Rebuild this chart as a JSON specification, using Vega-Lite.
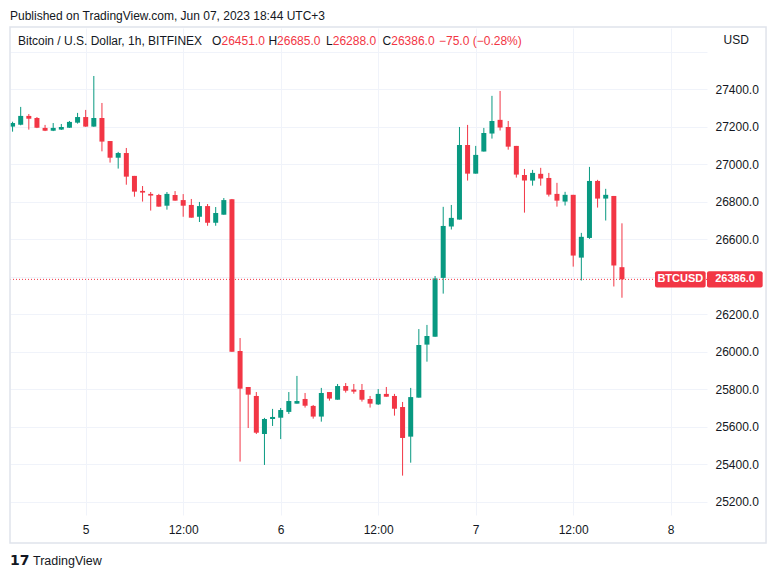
{
  "$schema": "https://vega.github.io/schema/vega-lite/v6.json",
  "width": 697,
  "height": 487,
  "autosize": {"type": "none"},
  "padding": {"left": 10, "top": 28, "right": 70, "bottom": 64},
  "background": "white",
  "config": {"view": {"stroke": null}, "font": "Liberation Sans"},
  "title": {"text": "Published on TradingView.com, Jun 07, 2023 18:44 UTC+3", "anchor": "start", "frame": "group", "fontSize": 12, "fontWeight": "normal", "color": "#131722", "font": "Liberation Sans", "offset": 3},
  "datasets": {
    "candles": [
      {"t": "2023-06-04T15:00:00Z", "o": 27201, "h": 27227, "l": 27174, "c": 27220},
      {"t": "2023-06-04T16:00:00Z", "o": 27211, "h": 27306, "l": 27208, "c": 27258},
      {"t": "2023-06-04T17:00:00Z", "o": 27258, "h": 27268, "l": 27185, "c": 27243},
      {"t": "2023-06-04T18:00:00Z", "o": 27247, "h": 27252, "l": 27193, "c": 27195},
      {"t": "2023-06-04T19:00:00Z", "o": 27194, "h": 27210, "l": 27177, "c": 27179},
      {"t": "2023-06-04T20:00:00Z", "o": 27179, "h": 27220, "l": 27177, "c": 27194},
      {"t": "2023-06-04T21:00:00Z", "o": 27185, "h": 27215, "l": 27183, "c": 27199},
      {"t": "2023-06-04T22:00:00Z", "o": 27195, "h": 27231, "l": 27194, "c": 27226},
      {"t": "2023-06-04T23:00:00Z", "o": 27222, "h": 27274, "l": 27217, "c": 27252},
      {"t": "2023-06-05T00:00:00Z", "o": 27252, "h": 27290, "l": 27200, "c": 27201},
      {"t": "2023-06-05T01:00:00Z", "o": 27201, "h": 27471, "l": 27200, "c": 27247},
      {"t": "2023-06-05T02:00:00Z", "o": 27247, "h": 27327, "l": 27069, "c": 27121},
      {"t": "2023-06-05T03:00:00Z", "o": 27124, "h": 27124, "l": 27009, "c": 27035},
      {"t": "2023-06-05T04:00:00Z", "o": 27035, "h": 27066, "l": 26977, "c": 27060},
      {"t": "2023-06-05T05:00:00Z", "o": 27060, "h": 27087, "l": 26891, "c": 26934},
      {"t": "2023-06-05T06:00:00Z", "o": 26938, "h": 26938, "l": 26827, "c": 26854},
      {"t": "2023-06-05T07:00:00Z", "o": 26858, "h": 26884, "l": 26801, "c": 26849},
      {"t": "2023-06-05T08:00:00Z", "o": 26842, "h": 26852, "l": 26753, "c": 26833},
      {"t": "2023-06-05T09:00:00Z", "o": 26836, "h": 26842, "l": 26774, "c": 26774},
      {"t": "2023-06-05T10:00:00Z", "o": 26779, "h": 26852, "l": 26758, "c": 26842},
      {"t": "2023-06-05T11:00:00Z", "o": 26836, "h": 26857, "l": 26806, "c": 26806},
      {"t": "2023-06-05T12:00:00Z", "o": 26809, "h": 26841, "l": 26720, "c": 26779},
      {"t": "2023-06-05T13:00:00Z", "o": 26783, "h": 26815, "l": 26715, "c": 26715},
      {"t": "2023-06-05T14:00:00Z", "o": 26720, "h": 26799, "l": 26692, "c": 26777},
      {"t": "2023-06-05T15:00:00Z", "o": 26777, "h": 26788, "l": 26672, "c": 26688},
      {"t": "2023-06-05T16:00:00Z", "o": 26688, "h": 26772, "l": 26672, "c": 26740},
      {"t": "2023-06-05T17:00:00Z", "o": 26731, "h": 26820, "l": 26731, "c": 26809},
      {"t": "2023-06-05T18:00:00Z", "o": 26813, "h": 26815, "l": 26000, "c": 26000},
      {"t": "2023-06-05T19:00:00Z", "o": 26004, "h": 26073, "l": 25414, "c": 25803},
      {"t": "2023-06-05T20:00:00Z", "o": 25812, "h": 25812, "l": 25593, "c": 25771},
      {"t": "2023-06-05T21:00:00Z", "o": 25764, "h": 25785, "l": 25561, "c": 25568},
      {"t": "2023-06-05T22:00:00Z", "o": 25561, "h": 25647, "l": 25396, "c": 25641},
      {"t": "2023-06-05T23:00:00Z", "o": 25641, "h": 25695, "l": 25604, "c": 25652},
      {"t": "2023-06-06T00:00:00Z", "o": 25648, "h": 25700, "l": 25534, "c": 25689},
      {"t": "2023-06-06T01:00:00Z", "o": 25679, "h": 25785, "l": 25668, "c": 25737},
      {"t": "2023-06-06T02:00:00Z", "o": 25723, "h": 25871, "l": 25723, "c": 25737},
      {"t": "2023-06-06T03:00:00Z", "o": 25748, "h": 25780, "l": 25702, "c": 25712},
      {"t": "2023-06-06T04:00:00Z", "o": 25711, "h": 25716, "l": 25643, "c": 25654},
      {"t": "2023-06-06T05:00:00Z", "o": 25654, "h": 25807, "l": 25627, "c": 25780},
      {"t": "2023-06-06T06:00:00Z", "o": 25785, "h": 25785, "l": 25739, "c": 25750},
      {"t": "2023-06-06T07:00:00Z", "o": 25744, "h": 25828, "l": 25744, "c": 25817},
      {"t": "2023-06-06T08:00:00Z", "o": 25817, "h": 25833, "l": 25782, "c": 25792},
      {"t": "2023-06-06T09:00:00Z", "o": 25798, "h": 25828, "l": 25776, "c": 25787},
      {"t": "2023-06-06T10:00:00Z", "o": 25796, "h": 25828, "l": 25734, "c": 25744},
      {"t": "2023-06-06T11:00:00Z", "o": 25748, "h": 25764, "l": 25702, "c": 25723},
      {"t": "2023-06-06T12:00:00Z", "o": 25719, "h": 25801, "l": 25716, "c": 25775},
      {"t": "2023-06-06T13:00:00Z", "o": 25775, "h": 25812, "l": 25760, "c": 25760},
      {"t": "2023-06-06T14:00:00Z", "o": 25764, "h": 25775, "l": 25659, "c": 25696},
      {"t": "2023-06-06T15:00:00Z", "o": 25705, "h": 25732, "l": 25339, "c": 25540},
      {"t": "2023-06-06T16:00:00Z", "o": 25547, "h": 25807, "l": 25408, "c": 25758},
      {"t": "2023-06-06T17:00:00Z", "o": 25755, "h": 26121, "l": 25755, "c": 26036},
      {"t": "2023-06-06T18:00:00Z", "o": 26038, "h": 26143, "l": 25947, "c": 26084},
      {"t": "2023-06-06T19:00:00Z", "o": 26080, "h": 26404, "l": 26080, "c": 26391},
      {"t": "2023-06-06T20:00:00Z", "o": 26394, "h": 26773, "l": 26310, "c": 26671},
      {"t": "2023-06-06T21:00:00Z", "o": 26668, "h": 26783, "l": 26652, "c": 26714},
      {"t": "2023-06-06T22:00:00Z", "o": 26705, "h": 27199, "l": 26705, "c": 27103},
      {"t": "2023-06-06T23:00:00Z", "o": 27103, "h": 27210, "l": 26913, "c": 26950},
      {"t": "2023-06-07T00:00:00Z", "o": 26950, "h": 27098, "l": 26950, "c": 27050},
      {"t": "2023-06-07T01:00:00Z", "o": 27068, "h": 27194, "l": 27068, "c": 27167},
      {"t": "2023-06-07T02:00:00Z", "o": 27164, "h": 27365, "l": 27137, "c": 27231},
      {"t": "2023-06-07T03:00:00Z", "o": 27237, "h": 27391, "l": 27180, "c": 27196},
      {"t": "2023-06-07T04:00:00Z", "o": 27199, "h": 27231, "l": 27078, "c": 27094},
      {"t": "2023-06-07T05:00:00Z", "o": 27098, "h": 27098, "l": 26929, "c": 26945},
      {"t": "2023-06-07T06:00:00Z", "o": 26943, "h": 26975, "l": 26742, "c": 26913},
      {"t": "2023-06-07T07:00:00Z", "o": 26913, "h": 26970, "l": 26886, "c": 26954},
      {"t": "2023-06-07T08:00:00Z", "o": 26949, "h": 26981, "l": 26886, "c": 26924},
      {"t": "2023-06-07T09:00:00Z", "o": 26927, "h": 26954, "l": 26828, "c": 26838},
      {"t": "2023-06-07T10:00:00Z", "o": 26842, "h": 26901, "l": 26774, "c": 26806},
      {"t": "2023-06-07T11:00:00Z", "o": 26801, "h": 26853, "l": 26780, "c": 26837},
      {"t": "2023-06-07T12:00:00Z", "o": 26837, "h": 26837, "l": 26454, "c": 26513},
      {"t": "2023-06-07T13:00:00Z", "o": 26502, "h": 26634, "l": 26380, "c": 26613},
      {"t": "2023-06-07T14:00:00Z", "o": 26607, "h": 26986, "l": 26602, "c": 26911},
      {"t": "2023-06-07T15:00:00Z", "o": 26911, "h": 26917, "l": 26769, "c": 26817},
      {"t": "2023-06-07T16:00:00Z", "o": 26817, "h": 26869, "l": 26700, "c": 26837},
      {"t": "2023-06-07T17:00:00Z", "o": 26831, "h": 26831, "l": 26348, "c": 26460},
      {"t": "2023-06-07T18:00:00Z", "o": 26451, "h": 26685, "l": 26288, "c": 26386}
    ]
  },
  "layer": [
    {
      "data": {"name": "candles"},
      "mark": {"type": "rule", "strokeWidth": 1},
      "encoding": {
        "x": {
          "field": "t", "type": "temporal",
          "scale": {"type": "utc", "padding": 0, "domain": [
            {"year": 2023, "month": 6, "date": 4, "hours": 14, "minutes": 41, "utc": true},
            {"year": 2023, "month": 6, "date": 8, "hours": 4, "minutes": 28, "utc": true}
          ]},
          "axis": {
            "title": null,
            "values": [
              {"year": 2023, "month": 6, "date": 5, "hours": 0, "utc": true},
              {"year": 2023, "month": 6, "date": 5, "hours": 12, "utc": true},
              {"year": 2023, "month": 6, "date": 6, "hours": 0, "utc": true},
              {"year": 2023, "month": 6, "date": 6, "hours": 12, "utc": true},
              {"year": 2023, "month": 6, "date": 7, "hours": 0, "utc": true},
              {"year": 2023, "month": 6, "date": 7, "hours": 12, "utc": true},
              {"year": 2023, "month": 6, "date": 8, "hours": 0, "utc": true}
            ],
            "labelExpr": "utchours(datum.value) == 0 ? utcFormat(datum.value, '%-d') : '12:00'",
            "grid": true, "gridColor": "#f0f3fa", "gridWidth": 1,
            "ticks": false, "domain": false,
            "labelPadding": 9, "labelFontSize": 12, "labelColor": "#131722", "labelFont": "Liberation Sans",
            "labelFlush": false
          }
        },
        "y": {
          "field": "l", "type": "quantitative",
          "scale": {"domain": [25129, 27727], "zero": false, "nice": false, "padding": 0},
          "axis": {
            "title": null, "orient": "right",
            "values": [25200, 25400, 25600, 25800, 26000, 26200, 26400, 26600, 26800, 27000, 27200, 27400, 27600],
            "labelExpr": "datum.value == 27600 || datum.value == 26400 ? '' : format(datum.value, '.1f')",
            "grid": true, "gridColor": "#f0f3fa", "gridWidth": 1,
            "ticks": false, "domain": false,
            "labelPadding": 8, "labelFontSize": 12, "labelColor": "#131722", "labelFont": "Liberation Sans",
            "labelFlush": false, "labelOverlap": false
          }
        },
        "y2": {"field": "h"},
        "color": {"condition": {"test": "datum.c >= datum.o", "value": "#089981"}, "value": "#F23645"}
      }
    },
    {
      "data": {"name": "candles"},
      "mark": {"type": "bar", "size": 5},
      "encoding": {
        "x": {"field": "t", "type": "temporal"},
        "y": {"field": "o", "type": "quantitative"},
        "y2": {"field": "c"},
        "color": {"condition": {"test": "datum.c >= datum.o", "value": "#089981"}, "value": "#F23645"}
      }
    },
    {
      "data": {"values": [{}]},
      "mark": {"type": "rule", "color": "#F23645", "strokeDash": [1, 2], "strokeWidth": 1},
      "encoding": {"y": {"datum": 26386, "type": "quantitative"}}
    },
    {
      "data": {"values": [{}]},
      "mark": {"type": "rect", "fillOpacity": 0, "stroke": "#e0e3eb", "strokeWidth": 1.5},
      "encoding": {
        "x": {"datum": {"year": 2023, "month": 6, "date": 4, "hours": 14, "minutes": 41, "utc": true}, "type": "temporal"},
        "x2": {"datum": {"year": 2023, "month": 6, "date": 8, "hours": 11, "minutes": 44, "utc": true}},
        "y": {"datum": 27732, "type": "quantitative"},
        "y2": {"datum": 24980}
      }
    },
    {
      "data": {"values": [{}]},
      "mark": {"type": "rect", "color": "#F23645", "cornerRadius": 2},
      "encoding": {
        "x": {"datum": {"year": 2023, "month": 6, "date": 7, "hours": 22, "minutes": 4, "utc": true}, "type": "temporal"},
        "x2": {"datum": {"year": 2023, "month": 6, "date": 8, "hours": 4, "minutes": 18, "utc": true}},
        "y": {"datum": 26430, "type": "quantitative"},
        "y2": {"datum": 26343}
      }
    },
    {
      "data": {"values": [{}]},
      "mark": {"type": "rect", "color": "#F23645", "cornerRadius": 2},
      "encoding": {
        "x": {"datum": {"year": 2023, "month": 6, "date": 8, "hours": 4, "minutes": 28, "utc": true}, "type": "temporal"},
        "x2": {"datum": {"year": 2023, "month": 6, "date": 8, "hours": 11, "minutes": 19, "utc": true}},
        "y": {"datum": 26430, "type": "quantitative"},
        "y2": {"datum": 26343}
      }
    },
    {
      "data": {"values": [{}]},
      "mark": {"type": "text", "text": "BTCUSD", "color": "white", "fontWeight": "bold", "fontSize": 11, "align": "center", "baseline": "middle"},
      "encoding": {
        "x": {"datum": {"year": 2023, "month": 6, "date": 8, "hours": 1, "minutes": 11, "utc": true}, "type": "temporal"},
        "y": {"datum": 26386, "type": "quantitative"}
      }
    },
    {
      "data": {"values": [{}]},
      "mark": {"type": "text", "text": "26386.0", "color": "white", "fontWeight": "bold", "fontSize": 11, "align": "center", "baseline": "middle"},
      "encoding": {
        "x": {"datum": {"year": 2023, "month": 6, "date": 8, "hours": 7, "minutes": 55, "utc": true}, "type": "temporal"},
        "y": {"datum": 26386, "type": "quantitative"}
      }
    },
    {
      "data": {"values": [{}]},
      "mark": {"type": "text", "text": "Bitcoin / U.S. Dollar, 1h, BITFINEX", "color": "#131722", "fontSize": 12, "align": "left", "baseline": "middle"},
      "encoding": {
        "x": {"datum": {"year": 2023, "month": 6, "date": 4, "hours": 15, "minutes": 40, "utc": true}, "type": "temporal"},
        "y": {"datum": 27658, "type": "quantitative"}
      }
    },
    {
      "data": {"values": [{}]},
      "mark": {"type": "text", "text": "O", "color": "#131722", "fontSize": 12, "align": "left", "baseline": "middle"},
      "encoding": {
        "x": {"datum": {"year": 2023, "month": 6, "date": 5, "hours": 15, "minutes": 33, "utc": true}, "type": "temporal"},
        "y": {"datum": 27658, "type": "quantitative"}
      }
    },
    {
      "data": {"values": [{}]},
      "mark": {"type": "text", "text": "26451.0", "color": "#F23645", "fontSize": 12, "align": "left", "baseline": "middle"},
      "encoding": {
        "x": {"datum": {"year": 2023, "month": 6, "date": 5, "hours": 16, "minutes": 43, "utc": true}, "type": "temporal"},
        "y": {"datum": 27658, "type": "quantitative"}
      }
    },
    {
      "data": {"values": [{}]},
      "mark": {"type": "text", "text": "H", "color": "#131722", "fontSize": 12, "align": "left", "baseline": "middle"},
      "encoding": {
        "x": {"datum": {"year": 2023, "month": 6, "date": 5, "hours": 22, "minutes": 30, "utc": true}, "type": "temporal"},
        "y": {"datum": 27658, "type": "quantitative"}
      }
    },
    {
      "data": {"values": [{}]},
      "mark": {"type": "text", "text": "26685.0", "color": "#F23645", "fontSize": 12, "align": "left", "baseline": "middle"},
      "encoding": {
        "x": {"datum": {"year": 2023, "month": 6, "date": 5, "hours": 23, "minutes": 33, "utc": true}, "type": "temporal"},
        "y": {"datum": 27658, "type": "quantitative"}
      }
    },
    {
      "data": {"values": [{}]},
      "mark": {"type": "text", "text": "L", "color": "#131722", "fontSize": 12, "align": "left", "baseline": "middle"},
      "encoding": {
        "x": {"datum": {"year": 2023, "month": 6, "date": 6, "hours": 5, "minutes": 34, "utc": true}, "type": "temporal"},
        "y": {"datum": 27658, "type": "quantitative"}
      }
    },
    {
      "data": {"values": [{}]},
      "mark": {"type": "text", "text": "26288.0", "color": "#F23645", "fontSize": 12, "align": "left", "baseline": "middle"},
      "encoding": {
        "x": {"datum": {"year": 2023, "month": 6, "date": 6, "hours": 6, "minutes": 24, "utc": true}, "type": "temporal"},
        "y": {"datum": 27658, "type": "quantitative"}
      }
    },
    {
      "data": {"values": [{}]},
      "mark": {"type": "text", "text": "C", "color": "#131722", "fontSize": 12, "align": "left", "baseline": "middle"},
      "encoding": {
        "x": {"datum": {"year": 2023, "month": 6, "date": 6, "hours": 12, "minutes": 32, "utc": true}, "type": "temporal"},
        "y": {"datum": 27658, "type": "quantitative"}
      }
    },
    {
      "data": {"values": [{}]},
      "mark": {"type": "text", "text": "26386.0", "color": "#F23645", "fontSize": 12, "align": "left", "baseline": "middle"},
      "encoding": {
        "x": {"datum": {"year": 2023, "month": 6, "date": 6, "hours": 13, "minutes": 36, "utc": true}, "type": "temporal"},
        "y": {"datum": 27658, "type": "quantitative"}
      }
    },
    {
      "data": {"values": [{}]},
      "mark": {"type": "text", "text": "−75.0 (−0.28%)", "color": "#F23645", "fontSize": 12, "align": "left", "baseline": "middle"},
      "encoding": {
        "x": {"datum": {"year": 2023, "month": 6, "date": 6, "hours": 19, "minutes": 29, "utc": true}, "type": "temporal"},
        "y": {"datum": 27658, "type": "quantitative"}
      }
    },
    {
      "data": {"values": [{}]},
      "mark": {"type": "text", "text": "USD", "color": "#131722", "fontSize": 12, "align": "left", "baseline": "middle"},
      "encoding": {
        "x": {"datum": {"year": 2023, "month": 6, "date": 8, "hours": 6, "minutes": 30, "utc": true}, "type": "temporal"},
        "y": {"datum": 27663, "type": "quantitative"}
      }
    },
    {
      "data": {"values": [{}]},
      "mark": {"type": "text", "text": "17", "color": "#131722", "fontSize": 14, "fontWeight": "bold", "font": "DejaVu Sans", "align": "left", "baseline": "middle"},
      "encoding": {
        "x": {"datum": {"year": 2023, "month": 6, "date": 4, "hours": 14, "minutes": 41, "utc": true}, "type": "temporal"},
        "y": {"datum": 24884, "type": "quantitative"}
      }
    },
    {
      "data": {"values": [{}]},
      "mark": {"type": "text", "text": "TradingView", "color": "#131722", "fontSize": 12.5, "align": "left", "baseline": "middle"},
      "encoding": {
        "x": {"datum": {"year": 2023, "month": 6, "date": 4, "hours": 17, "minutes": 31, "utc": true}, "type": "temporal"},
        "y": {"datum": 24884, "type": "quantitative"}
      }
    }
  ]
}
